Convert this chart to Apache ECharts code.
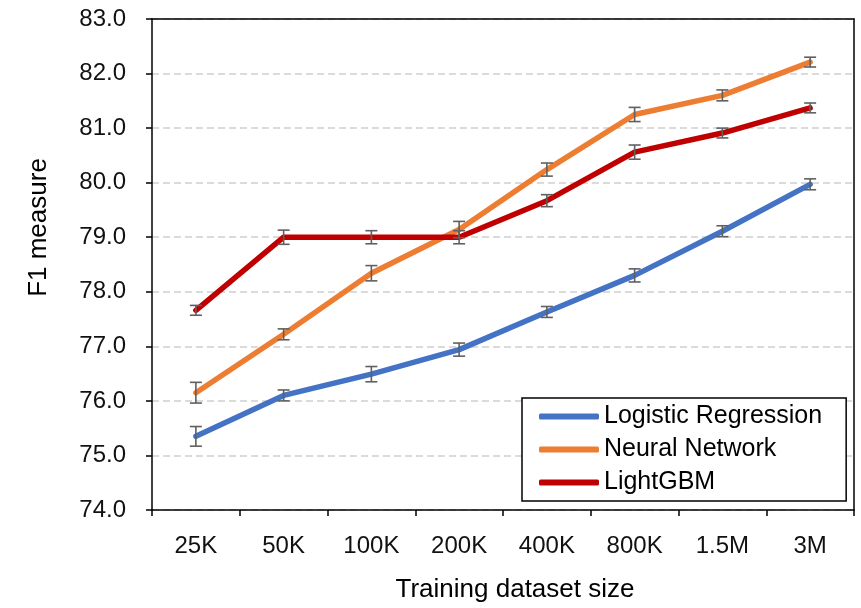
<!DOCTYPE html>
<html>
<head>
<meta charset="utf-8">
<script src="https://cdn.jsdelivr.net/npm/echarts@6/dist/echarts.min.js"></script>
<style>
html,body{margin:0;padding:0;background:#fff;}
#chart{width:861px;height:608px;}
</style>
</head>
<body>
<div id="chart"></div>
<script>
const categories = ['25K','50K','100K','200K','400K','800K','1.5M','3M'];
const seriesNames = ['Logistic Regression','Neural Network','LightGBM'];
const lrValues = [75.35, 76.10, 76.49, 76.94, 77.63, 78.30, 79.11, 79.97];
const nnValues = [76.15, 77.22, 78.34, 79.14, 80.24, 81.25, 81.60, 82.21];
const lgbmValues = [77.66, 79.00, 79.00, 79.00, 79.67, 80.56, 80.91, 81.37];
const lrErr = [0.18, 0.10, 0.14, 0.12, 0.10, 0.12, 0.10, 0.10];
const nnErr = [0.19, 0.10, 0.14, 0.15, 0.12, 0.13, 0.10, 0.09];
const lgbmErr = [0.09, 0.13, 0.12, 0.12, 0.11, 0.13, 0.09, 0.09];
const yTicks = [74,75,76,77,78,79,80,81,82,83];

const colors = ['#4472C4','#ED7D31','#C00000'];
const FONT = 'Liberation Sans, Arial, sans-serif';

function errData(vals, errs){
  return vals.map((v,i)=>[i, v-errs[i], v+errs[i]]);
}
function errSeries(vals, errs){
  return {
    type:'custom',
    silent:true,
    z:5,
    data: errData(vals, errs),
    renderItem: function(params, api){
      const lo = api.coord([api.value(0), api.value(1)]);
      const hi = api.coord([api.value(0), api.value(2)]);
      const w = 6;
      const st = {stroke:'#606060', lineWidth:1.6};
      return {type:'group', children:[
        {type:'line', shape:{x1:lo[0],y1:lo[1],x2:hi[0],y2:hi[1]}, style:st},
        {type:'line', shape:{x1:lo[0]-w,y1:lo[1],x2:lo[0]+w,y2:lo[1]}, style:st},
        {type:'line', shape:{x1:hi[0]-w,y1:hi[1],x2:hi[0]+w,y2:hi[1]}, style:st}
      ]};
    }
  };
}
function lineSeries(name, vals, color){
  return {
    name:name, type:'line', data:vals, symbol:'none', z:3,
    lineStyle:{color:color, width:5.5, cap:'round', join:'round'},
    itemStyle:{color:color}
  };
}

const chart = echarts.init(document.getElementById('chart'), null, {renderer:'canvas'});
chart.setOption({
  animation:false,
  backgroundColor:'#fff',
  textStyle:{fontFamily:FONT},
  grid:{left:152, top:19, right:7, bottom:97, show:false},
  legend:{
    data:seriesNames.map(n=>({name:n, icon:'roundRect'})),
    orient:'vertical', left:522, top:398,
    padding:[6,24,6,17],
    itemWidth:60, itemHeight:6, itemGap:8,
    backgroundColor:'#fff', borderColor:'#000', borderWidth:1.5,
    textStyle:{fontFamily:FONT, fontSize:25, color:'#000'}
  },
  xAxis:[{
    type:'category', data:categories, boundaryGap:true,
    name:'Training dataset size', nameLocation:'middle', nameGap:67,
    nameTextStyle:{fontFamily:FONT, fontSize:26, color:'#000', padding:[0,0,0,24]},
    axisLine:{lineStyle:{color:'#000', width:1.5}},
    axisTick:{show:true, length:6, lineStyle:{color:'#000', width:1.5}},
    axisLabel:{fontFamily:FONT, fontSize:24, color:'#111', margin:24},
    splitLine:{show:false}
  },{
    type:'category', data:categories, position:'top', z:10,
    axisLine:{show:true, lineStyle:{color:'#000', width:1.5}},
    axisTick:{show:false}, axisLabel:{show:false}, splitLine:{show:false}
  }],
  yAxis:[{
    type:'value', min:yTicks[0], max:yTicks[yTicks.length-1], interval:1,
    name:'F1 measure', nameLocation:'middle', nameGap:100, nameRotate:90,
    nameTextStyle:{fontFamily:FONT, fontSize:26, color:'#000', padding:[0,0,0,74]},
    axisLine:{show:true, lineStyle:{color:'#000', width:1.5}},
    axisTick:{show:true, length:6, lineStyle:{color:'#000', width:1.5}},
    axisLabel:{fontFamily:FONT, fontSize:24, color:'#111', margin:26, formatter:v=>v.toFixed(1)},
    splitLine:{show:true, lineStyle:{color:'#D0D0D0', width:1.5, type:[7,4]}}
  },{
    type:'value', min:yTicks[0], max:yTicks[yTicks.length-1], interval:1, position:'right', z:10,
    axisLine:{show:true, lineStyle:{color:'#000', width:1.5}},
    axisTick:{show:false}, axisLabel:{show:false}, splitLine:{show:false}
  }],
  series:[
    lineSeries(seriesNames[0], lrValues, colors[0]),
    lineSeries(seriesNames[1], nnValues, colors[1]),
    lineSeries(seriesNames[2], lgbmValues, colors[2]),
    errSeries(lrValues, lrErr),
    errSeries(nnValues, nnErr),
    errSeries(lgbmValues, lgbmErr)
  ]
});
</script>
</body>
</html>
